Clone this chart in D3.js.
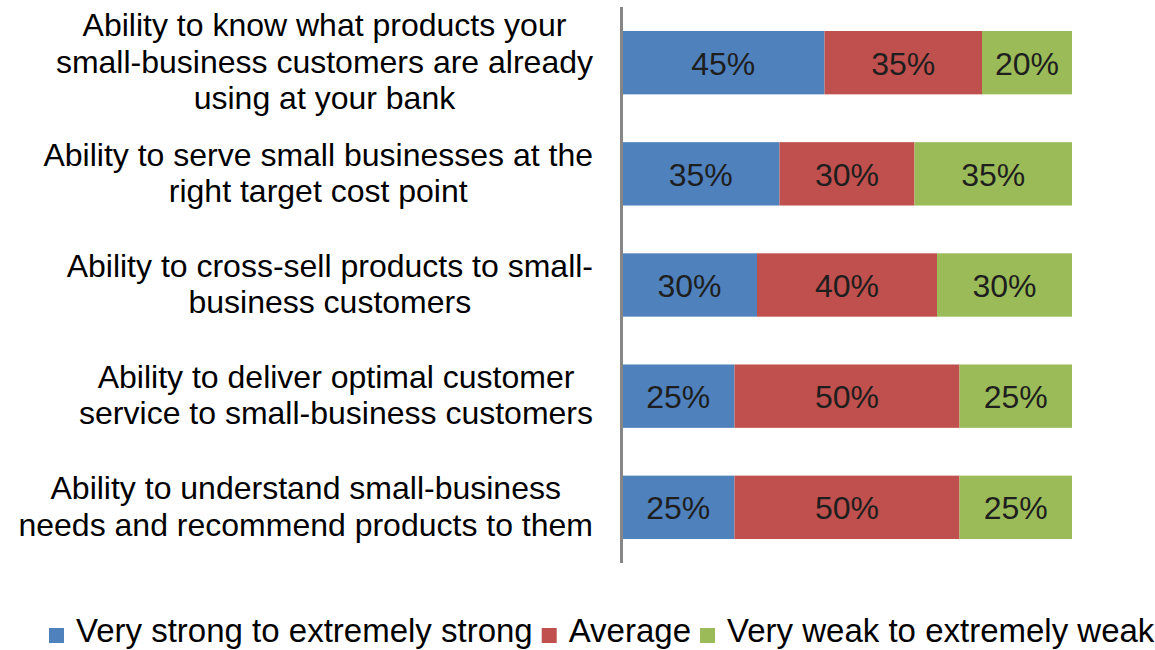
<!DOCTYPE html>
<html>
<head>
<meta charset="utf-8">
<script src="https://cdn.jsdelivr.net/npm/d3@7"></script>
<style>
  html, body { margin: 0; padding: 0; background: #ffffff; }
  svg { display: block; }
  text { font-family: "Liberation Sans", Arial, sans-serif; }
</style>
</head>
<body>
<svg id="chart" width="1155" height="650"></svg>
<script>
// Survey items (each entry is one wrapped label, split into its lines)
const categories = [
  ["Ability to know what products your", "small-business customers are already", "using at your bank"],
  ["Ability to serve small businesses at the", "right target cost point"],
  ["Ability to cross-sell products to small-", "business customers"],
  ["Ability to deliver optimal customer", "service to small-business customers"],
  ["Ability to understand small-business", "needs and recommend products to them"]
];

const seriesNames = ["Very strong to extremely strong", "Average", "Very weak to extremely weak"];
const seriesColors = ["#4F81BD", "#C0504D", "#9BBB59"];

// Share of respondents (%) per item
const strongValues  = [45, 35, 30, 25, 25];
const averageValues = [35, 30, 40, 50, 50];
const weakValues    = [20, 35, 30, 25, 25];

const svg = d3.select("#chart");
const fontSize = 32;

const x0 = 622, x1 = 1072;
const x = d3.scaleLinear().domain([0, 100]).range([x0, x1]);

const y = d3.scaleBand()
  .domain(d3.range(categories.length))
  .range([31, 539])
  .paddingInner(0.43)
  .paddingOuter(0);

const rows = categories.map((c, i) => ({
  index: i,
  values: [strongValues[i], averageValues[i], weakValues[i]]
}));

// Stacked bars
const stack = d3.stack().keys([0, 1, 2]).value((d, k) => d.values[k]);
const layers = stack(rows);

const gBars = svg.append("g");
layers.forEach((layer, k) => {
  const g = gBars.append("g");
  g.selectAll("rect")
    .data(layer)
    .join("rect")
    .attr("x", d => x(d[0]))
    .attr("y", (d, i) => y(i))
    .attr("width", d => x(d[1]) - x(d[0]))
    .attr("height", y.bandwidth())
    .attr("fill", seriesColors[k]);
  g.selectAll("text")
    .data(layer)
    .join("text")
    .attr("x", d => (x(d[0]) + x(d[1])) / 2)
    .attr("y", (d, i) => y(i) + y.bandwidth() / 2 + 12)
    .attr("text-anchor", "middle")
    .attr("font-size", fontSize)
    .attr("fill", "#1e1e1e")
    .text(d => (d[1] - d[0]) + "%");
});

// Vertical category axis line
svg.append("line")
  .attr("x1", 621.5).attr("x2", 621.5)
  .attr("y1", 7).attr("y2", 563)
  .attr("stroke", "#868686")
  .attr("stroke-width", 3);

// Category labels, each block centred on its own widest line, right-aligned to the axis
const labelRight = 593;
const lineGap = 36.5;
categories.forEach((lines, i) => {
  const cy = y(i) + y.bandwidth() / 2;
  const g = svg.append("g");
  const texts = lines.map((ln, j) =>
    g.append("text")
      .attr("font-size", fontSize)
      .attr("fill", "#000")
      .attr("text-anchor", "middle")
      .attr("y", cy + (j - (lines.length - 1) / 2) * lineGap + 10)
      .text(ln)
  );
  const maxW = d3.max(texts, t => t.node().getComputedTextLength());
  texts.forEach(t => t.attr("x", labelRight - maxW / 2));
});

// Legend along the bottom edge
const legend = svg.append("g");
let lx = 49;
seriesNames.forEach((name, k) => {
  legend.append("rect")
    .attr("x", lx).attr("y", 628)
    .attr("width", 15).attr("height", 15)
    .attr("fill", seriesColors[k]);
  const t = legend.append("text")
    .attr("x", lx + 27)
    .attr("y", 642)
    .attr("font-size", 33)
    .attr("fill", "#000")
    .text(name);
  lx += 27 + t.node().getComputedTextLength() + 9;
});
</script>
</body>
</html>
